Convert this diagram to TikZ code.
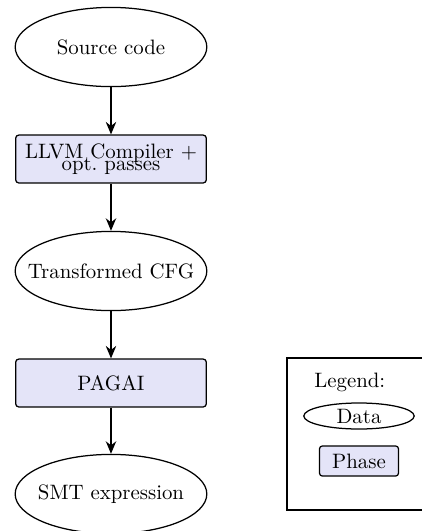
\documentclass[tikz,border=0pt]{standalone}
\usetikzlibrary{shapes.geometric,arrows.meta}
\definecolor{phasefill}{RGB}{228,228,248}
\tikzset{
  datanode/.style={ellipse,draw,semithick,minimum width=92pt,minimum height=38pt,inner sep=0pt},
  phasenode/.style={rectangle,rounded corners=1.5pt,draw,semithick,fill=phasefill,minimum width=91.5pt,minimum height=23pt,inner sep=0pt,align=center},
  flow/.style={-{Stealth[length=6pt,width=5pt]},semithick},
  legdata/.style={ellipse,draw,semithick,minimum width=53pt,minimum height=12.5pt,inner sep=0pt},
  legphase/.style={rectangle,rounded corners=1.5pt,draw,semithick,fill=phasefill,minimum width=38pt,minimum height=14.5pt,inner sep=0pt}
}
\newcommand{\zbox}[1]{\makebox[0pt]{#1}}
\begin{document}
\begin{tikzpicture}[x=0.48pt,y=-0.48pt]
\useasboundingbox (0,0) rectangle (422,531);
\clip (0,0) rectangle (422,531);
\node[datanode] (src) at (111,47) {\zbox{Source code}};
\node[phasenode] (llvm) at (111,159) {LLVM Compiler +\\[-6pt]opt.\ passes};
\node[datanode] (cfg) at (111,271) {\zbox{Transformed CFG}};
\node[phasenode] (pagai) at (111,383) {PAGAI};
\node[datanode] (smt) at (111,494) {\zbox{SMT expression}};
\draw[flow] (src) -- (llvm);
\draw[flow] (llvm) -- (cfg);
\draw[flow] (cfg) -- (pagai);
\draw[flow] (pagai) -- (smt);
\draw[semithick] (432,358) -- (287,358) -- (287,510) -- (432,510);
\node[anchor=west] (legtitle) at (307,382) {Legend:};
\node[legdata] (legd) at (359,416) {\zbox{Data}};
\node[legphase] (legp) at (359,461) {Phase};
\end{tikzpicture}
\end{document}
